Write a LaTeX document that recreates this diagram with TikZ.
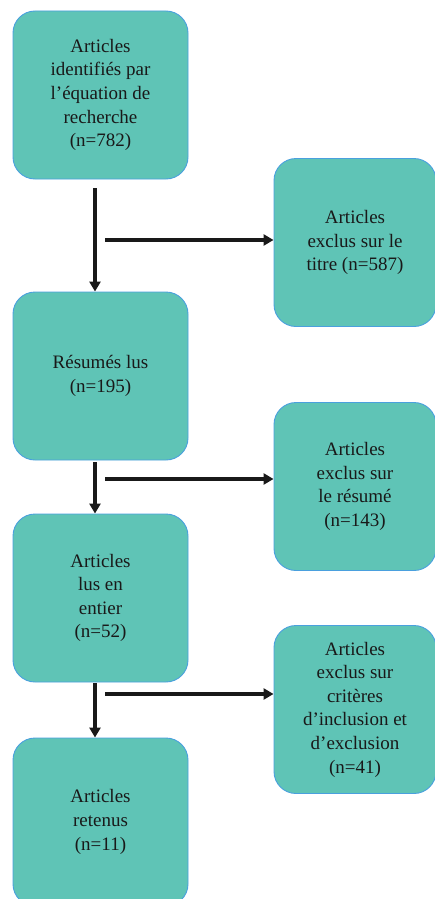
\documentclass[tikz,border=0pt]{standalone}
\usepackage{fontspec}
\setmainfont{Liberation Serif}
\usepackage{tikz}
\usetikzlibrary{calc,arrows.meta}
\definecolor{tealfill}{RGB}{ 95, 196, 182 }
\definecolor{edgeblue}{RGB}{ 74, 160, 222 }

\begin{document}
\begin{tikzpicture}[x=1pt,y=-1pt,font=\fontsize{19}{23.6}\selectfont]
\tikzstyle{box}=[rectangle,rounded corners=22pt,draw=edgeblue,line width=0.9pt,fill=tealfill,
                 align=center,inner sep=0pt,minimum height=168pt,text=black!90]
\tikzstyle{left box}=[box,minimum width=175pt]
\tikzstyle{right box}=[box,minimum width=162pt]
\tikzstyle{flow}=[line width=3.2pt,black!90,-{Triangle[length=10pt,width=11pt]}]

\useasboundingbox (0,0) rectangle (435,899);

% main column
\node(1)[left box] at (100.5,95) {Articles\\identifiés par\\l’équation de\\recherche\\(n=782)};
\node(2)[left box] at (100.5,376) {Résumés lus\\(n=195)};
\node(3)[left box] at (100.5,598) {Articles\\lus en\\entier\\(n=52)};
\node(4)[left box] at (100.5,822) {Articles\\retenus\\(n=11)};

% excluded
\node(r1)[right box] at (355,242.5) {Articles\\exclus sur le\\titre (n=587)};
\node(r2)[right box] at (355,486.5) {Articles\\exclus sur\\le résumé\\(n=143)};
\node(r3)[right box] at (355,709.5) {Articles\\exclus sur\\critères\\d’inclusion et\\d’exclusion\\(n=41)};

% arrow start points
\coordinate(a1) at (95,188);
\coordinate(a2) at (95,462);
\coordinate(a3) at (95,683);
\coordinate(h1) at (105,240);
\coordinate(h2) at (105,479);
\coordinate(h3) at (105,694);

\draw[flow] (a1) -- (a1 |- 2.north);
\draw[flow] (a2) -- (a2 |- 3.north);
\draw[flow] (a3) -- (a3 |- 4.north);
\draw[flow] (h1) -- (h1 -| r1.west);
\draw[flow] (h2) -- (h2 -| r2.west);
\draw[flow] (h3) -- (h3 -| r3.west);

\end{tikzpicture}
\end{document}
